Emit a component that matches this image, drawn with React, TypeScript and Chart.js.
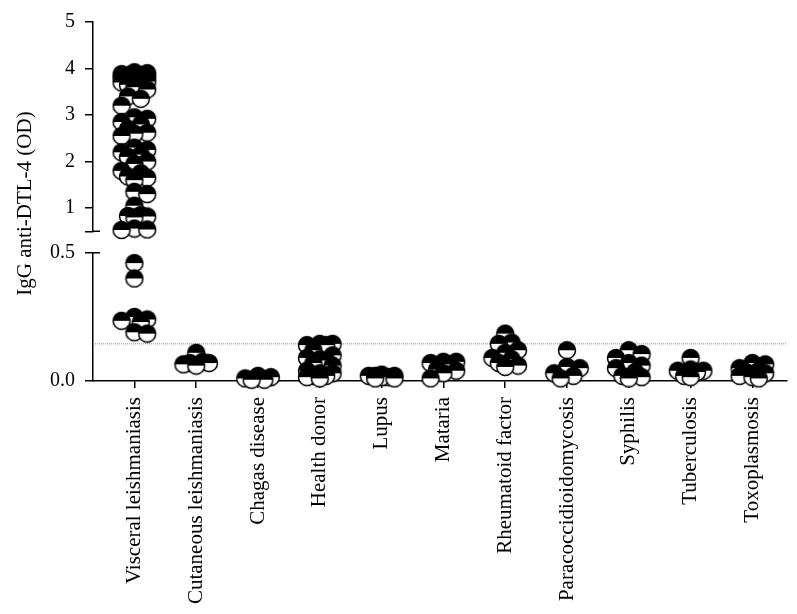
import React, { useEffect, useRef } from 'react';
import { Chart, registerables } from 'chart.js';

Chart.register(...registerables);

const categories = [
  'Visceral leishmaniasis',
  'Cutaneous leishmaniasis',
  'Chagas disease',
  'Health donor',
  'Lupus',
  'Mataria',
  'Rheumatoid factor',
  'Paracoccidioidomycosis',
  'Syphilis',
  'Tuberculosis',
  'Toxoplasmosis',
];

const visceral = [
  3.92, 3.9, 3.88, 3.86, 3.85, 3.83, 3.82, 3.8, 3.78, 3.76, 3.75, 3.72, 3.7, 3.68, 3.65, 3.6,
  3.55, 3.4, 3.35, 3.2, 2.95, 2.92, 2.85, 2.8, 2.7, 2.62, 2.6, 2.55, 2.3, 2.25, 2.2, 2.15,
  2.1, 2.0, 1.95, 1.8, 1.75, 1.68, 1.65, 1.6, 1.35, 1.3, 1.05, 0.85, 0.83, 0.82, 0.8, 0.56,
  0.54, 0.53, 0.46, 0.4, 0.25, 0.24, 0.235, 0.23, 0.19, 0.185,
];
const cutaneous = [0.11, 0.075, 0.07, 0.065, 0.07, 0.06];
const chagas = [0.02, 0.015, 0.01, 0.005, 0.005];
const healthDonor = [
  0.145, 0.145, 0.14, 0.14, 0.12, 0.1, 0.09, 0.085, 0.08, 0.07, 0.06, 0.04, 0.03, 0.02,
  0.015, 0.01, 0.02, 0.03,
];
const lupus = [0.025, 0.02, 0.02, 0.015, 0.01, 0.01, 0.02, 0.015];
const mataria = [0.075, 0.075, 0.07, 0.065, 0.045, 0.04, 0.03, 0.01];
const rheumatoid = [0.185, 0.15, 0.145, 0.12, 0.11, 0.09, 0.085, 0.07, 0.06, 0.055];
const paraco = [0.12, 0.055, 0.05, 0.03, 0.02, 0.01];
const syphilis = [0.12, 0.105, 0.09, 0.07, 0.06, 0.05, 0.035, 0.02, 0.015, 0.01];
const tuberculosis = [0.09, 0.045, 0.04, 0.04, 0.035, 0.02, 0.015];
const toxoplasmosis = [0.07, 0.065, 0.05, 0.04, 0.035, 0.03, 0.02, 0.015, 0.01];

const groups = [
  visceral, cutaneous, chagas, healthDonor, lupus, mataria, rheumatoid, paraco, syphilis,
  tuberculosis, toxoplasmosis,
];

const cutoff = 0.145;
const breakValue = 0.5;
const upperTicks = [0.5, 1, 2, 3, 4, 5];
const lowerTicks = [0, 0.5];
const yTitle = 'IgG anti-DTL-4 (OD)';

const FONT = 'Liberation Serif';
const X_MIN = -0.67;
const X_MAX = 10.56;
const LOWER_H = 131;
const GAP_H = 22;
const UPPER_H = 214;

// approximate pixel geometry used only to lay out the swarm
const PX_X = 62.7;
const PX_LOWER = LOWER_H / 0.5;
const PX_UPPER = UPPER_H / 4.5;
const STEP = 6.5 / PX_X;
const MIN_D = 11;

function toPx(v: number) {
  return v > breakValue ? LOWER_H + GAP_H + (v - breakValue) * PX_UPPER : v * PX_LOWER;
}

function swarm(vals: number[], center: number) {
  const sorted = [...vals].sort((a, b) => b - a);
  const placed: { x: number; y: number; py: number }[] = [];
  const ks = [0, 1, -1, 2, -2];
  sorted.forEach((v) => {
    const py = toPx(v);
    let best = 0;
    let bestD = -1;
    for (const k of ks) {
      const px = k * STEP * PX_X;
      let dmin = Infinity;
      for (const p of placed) {
        const dx = (p.x - center) * PX_X - px;
        const dy = p.py - py;
        dmin = Math.min(dmin, Math.hypot(dx, dy));
      }
      if (dmin >= MIN_D) {
        best = k;
        bestD = Infinity;
        break;
      }
      if (dmin > bestD) {
        bestD = dmin;
        best = k;
      }
    }
    placed.push({ x: center + best * STEP, y: v, py });
  });
  return placed.map(({ x, y }) => ({ x, y }));
}

function makeMarker(r: number) {
  const size = Math.ceil(2 * r + 3);
  const c = document.createElement('canvas');
  c.width = size;
  c.height = size;
  const ctx = c.getContext('2d')!;
  const cx = size / 2;
  const cy = size / 2;
  ctx.beginPath();
  ctx.arc(cx, cy, r, 0, Math.PI * 2);
  ctx.fillStyle = '#fff';
  ctx.fill();
  ctx.beginPath();
  ctx.arc(cx, cy, r, Math.PI, Math.PI * 2);
  ctx.closePath();
  ctx.fillStyle = '#000';
  ctx.fill();
  ctx.beginPath();
  ctx.arc(cx, cy, r, 0, Math.PI * 2);
  ctx.lineWidth = 1.5;
  ctx.strokeStyle = '#000';
  ctx.stroke();
  return c;
}

function median(a: number[]) {
  const s = [...a].sort((p, q) => p - q);
  const m = Math.floor(s.length / 2);
  return s.length % 2 ? s[m] : (s[m - 1] + s[m]) / 2;
}

export default function App() {
  const ref = useRef<HTMLCanvasElement | null>(null);

  useEffect(() => {
    if (!ref.current) return;
    const marker = makeMarker(8.5);

    const all: { x: number; y: number }[] = [];
    groups.forEach((vals, i) => all.push(...swarm(vals, i)));
    all.sort((a, b) => b.y - a.y);
    const upperPts = all.filter((p) => p.y > breakValue);
    const lowerPts = all.filter((p) => p.y <= breakValue);

    const medianSets = groups.map((vals, i) => {
      const m = median(vals);
      return {
        type: 'line' as const,
        data: [
          { x: i - 0.32, y: m },
          { x: i + 0.32, y: m },
        ],
        yAxisID: m > breakValue ? 'yUpper' : 'yLower',
        borderColor: '#000',
        borderWidth: 1.5,
        pointRadius: 0,
        clip: false as const,
      };
    });

    const yCommon = (ticks: number[], labels: (v: number) => string) => ({
      type: 'linear' as const,
      position: 'left' as const,
      stack: 'y',
      afterBuildTicks: (s: any) => {
        s.ticks = ticks.map((value) => ({ value }));
      },
      afterFit: (s: any) => {
        s.width = 93;
      },
      ticks: {
        callback: (v: any) => labels(Number(v)),
        color: '#000',
        font: { family: FONT, size: 20 },
        padding: 10,
      },
      grid: { drawOnChartArea: false, tickLength: 8, color: '#000', lineWidth: 1.5 },
      border: { color: '#000', width: 1.5 },
    });

    const extrasPlugin = {
      id: 'extras',
      afterDraw(chart: any) {
        const ctx = chart.ctx;
        const up = chart.scales.yUpper;
        const lo = chart.scales.yLower;
        ctx.save();
        ctx.strokeStyle = '#000';
        ctx.lineWidth = 1.5;
        ctx.beginPath();
        ctx.moveTo(up.right, up.bottom);
        ctx.lineTo(up.right + 7, up.bottom);
        ctx.moveTo(lo.right, lo.top);
        ctx.lineTo(lo.right + 7, lo.top);
        ctx.stroke();
        ctx.translate(25, (chart.chartArea.top + chart.chartArea.bottom) / 2 + 2);
        ctx.rotate(-Math.PI / 2);
        ctx.font = `21px "${FONT}"`;
        ctx.fillStyle = '#000';
        ctx.textAlign = 'center';
        ctx.textBaseline = 'middle';
        ctx.fillText(yTitle, 0, 0);
        ctx.restore();
      },
    };

    const chart = new Chart(ref.current, {
      type: 'scatter',
      data: {
        datasets: [
          {
            data: lowerPts,
            yAxisID: 'yLower',
            pointStyle: marker as any,
            pointRadius: 9,
            clip: false as any,
          },
          {
            data: upperPts,
            yAxisID: 'yUpper',
            pointStyle: marker as any,
            pointRadius: 9,
            clip: false as any,
          },
          ...medianSets,
          {
            type: 'line' as const,
            data: [
              { x: X_MIN, y: cutoff },
              { x: X_MAX, y: cutoff },
            ],
            yAxisID: 'yLower',
            borderColor: '#888',
            borderWidth: 1,
            borderDash: [1, 1],
            pointRadius: 0,
          },
        ] as any,
      },
      plugins: [extrasPlugin],
      options: {
        animation: false,
        responsive: true,
        maintainAspectRatio: false,
        layout: { padding: { top: 14, right: 0, left: 0, bottom: 0 } },
        plugins: { legend: { display: false }, tooltip: { enabled: false } },
        scales: {
          x: {
            type: 'linear',
            min: X_MIN,
            max: X_MAX,
            afterBuildTicks: (s: any) => {
              s.ticks = categories.map((_, i) => ({ value: i }));
            },
            afterFit: (s: any) => {
              s.height = 233;
            },
            ticks: {
              callback: (v: any) => categories[Math.round(Number(v))] ?? '',
              minRotation: 90,
              maxRotation: 90,
              autoSkip: false,
              color: '#000',
              font: { family: FONT, size: 21 },
              padding: 9,
            },
            grid: { drawOnChartArea: false, tickLength: 7, color: '#000', lineWidth: 1.5 },
            border: { color: '#000', width: 1.5 },
          },
          yLower: {
            ...yCommon(lowerTicks, (v) => v.toFixed(1)),
            min: 0,
            max: 0.5,
            stackWeight: LOWER_H,
          },
          yGap: {
            type: 'linear',
            position: 'left',
            stack: 'y',
            stackWeight: GAP_H,
            min: 0,
            max: 1,
            afterFit: (s: any) => {
              s.width = 93;
            },
            ticks: { display: false },
            grid: { display: false },
            border: { display: false },
          },
          yUpper: {
            ...yCommon(upperTicks, (v) => (v === 0.5 ? '' : String(v))),
            min: 0.5,
            max: 5,
            stackWeight: UPPER_H,
          },
        } as any,
      },
    });
    return () => chart.destroy();
  }, []);

  return (
    <div style={{ position: 'absolute', left: 0, top: 0, width: 797, height: 614, background: '#fff' }}>
      <canvas ref={ref} />
    </div>
  );
}
